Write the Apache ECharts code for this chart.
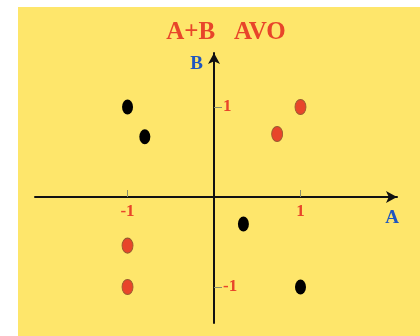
<!DOCTYPE html>
<html>
<head>
<meta charset="utf-8">
<script src="https://cdn.jsdelivr.net/npm/echarts@6/dist/echarts.min.js"></script>
<style>
  html, body { margin: 0; padding: 0; background: #ffffff; }
  #panel { position: absolute; left: 18px; top: 7px; width: 402px; height: 329px; background: #fee66b; }
  #chart { position: absolute; left: 0; top: 0; width: 420px; height: 336px; }
</style>
</head>
<body>
<div id="panel"></div>
<div id="chart"></div>
<script>
// Points on the A/B crossplot
const blackA = [-1, -0.8, 0.34, 1];
const blackB = [1, 0.67, -0.3, -1];
const redA = [1, 0.73, -1, -1];
const redB = [1, 0.7, -0.54, -1];
const tickValues = [-1, 1];
const titleText = 'A+B   AVO';

const RED = '#e8452a';
const BLUE = '#1f56c0';
const FONT = '"Liberation Serif", "DejaVu Serif", serif';

// plot frame in pixels; axes are shifted to cross at the origin
const G = { left: 35, top: 53, width: 362, height: 270 };
const X_MIN = -2.07, X_MAX = 2.116, Y_MIN = -1.4, Y_MAX = 1.6;
const xZeroOffset = -G.width * (0 - X_MIN) / (X_MAX - X_MIN);
const yZeroOffset = -G.height * (0 - Y_MIN) / (Y_MAX - Y_MIN);

const pairs = (xs, ys) => xs.map((x, i) => [x, ys[i]]);

const chart = echarts.init(document.getElementById('chart'), null, { renderer: 'canvas' });
chart.setOption({
  backgroundColor: 'transparent',
  animation: false,
  title: {
    text: titleText,
    left: 221,
    top: 15,
    textAlign: 'center',
    textStyle: { color: RED, fontFamily: FONT, fontWeight: 'bold', fontSize: 25 }
  },
  grid: Object.assign({ containLabel: false, outerBoundsMode: 'none' }, G),
  xAxis: {
    type: 'value',
    min: X_MIN,
    max: X_MAX,
    position: 'bottom',
    offset: yZeroOffset,
    name: 'A',
    nameLocation: 'end',
    nameGap: -5,
    nameTextStyle: {
      color: BLUE, fontFamily: FONT, fontWeight: 'bold', fontSize: 19,
      align: 'center', verticalAlign: 'top', padding: [12, 0, 0, 0]
    },
    axisLine: {
      onZero: false,
      symbol: ['none', 'arrow'],
      symbolSize: [9, 11],
      symbolOffset: [0, 0],
      lineStyle: { color: '#111', width: 2 }
    },
    axisTick: {
      show: true, inside: true, length: 7,
      customValues: tickValues,
      lineStyle: { color: '#8a8f6a', width: 1 }
    },
    axisLabel: {
      customValues: tickValues,
      margin: 6,
      color: RED, fontFamily: FONT, fontWeight: 'bold', fontSize: 17
    },
    splitLine: { show: false }
  },
  yAxis: {
    type: 'value',
    min: Y_MIN,
    max: Y_MAX,
    position: 'left',
    offset: xZeroOffset,
    name: 'B',
    nameLocation: 'end',
    nameGap: -11,
    nameTextStyle: {
      color: BLUE, fontFamily: FONT, fontWeight: 'bold', fontSize: 19,
      align: 'right', verticalAlign: 'middle', padding: [0, 11, 0, 0]
    },
    axisLine: {
      onZero: false,
      symbol: ['none', 'arrow'],
      symbolSize: [9, 11],
      symbolOffset: [0, 0],
      lineStyle: { color: '#111', width: 2 }
    },
    axisTick: {
      show: true, inside: true, length: 8,
      customValues: tickValues,
      lineStyle: { color: '#8a8f6a', width: 1 }
    },
    axisLabel: {
      inside: true,
      customValues: tickValues,
      margin: 9,
      color: RED, fontFamily: FONT, fontWeight: 'bold', fontSize: 17
    },
    splitLine: { show: false }
  },
  series: [
    {
      name: 'black',
      type: 'scatter',
      symbol: 'circle',
      symbolSize: [11, 15],
      itemStyle: { color: '#000000', opacity: 1 },
      data: pairs(blackA, blackB)
    },
    {
      name: 'red',
      type: 'scatter',
      symbol: 'circle',
      symbolSize: [11, 15],
      itemStyle: { color: RED, opacity: 1, borderColor: '#9a5a30', borderWidth: 1 },
      data: pairs(redA, redB)
    }
  ]
});
</script>
</body>
</html>
